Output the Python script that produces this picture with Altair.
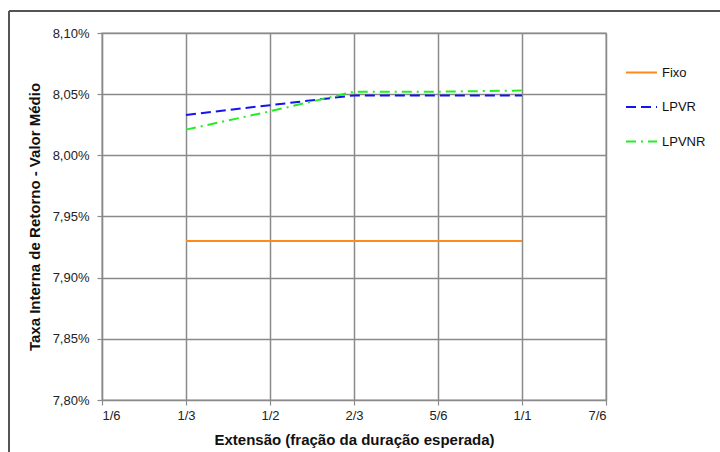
import altair as alt
import pandas as pd

x_labels = ["1/6", "1/3", "1/2", "2/3", "5/6", "1/1", "7/6"]
x_pos = [2/6, 3/6, 4/6, 5/6, 6/6]
series_names = ["Fixo", "LPVR", "LPVNR"]
fixo = [7.930, 7.930, 7.930, 7.930, 7.930]
lpvr = [8.033, 8.041, 8.049, 8.049, 8.049]
lpvnr = [8.021, 8.036, 8.052, 8.052, 8.053]

rows = []
for name, vals in zip(series_names, [fixo, lpvr, lpvnr]):
    for x, v in zip(x_pos, vals):
        rows.append({"serie": name, "x": x, "y": v})
df = pd.DataFrame(rows)

W, H = 504, 367
PL, PT = 102, 33

lab_arr = "[" + ",".join("'%s'" % s for s in x_labels) + "]"

lines = alt.Chart(df).mark_line(strokeWidth=2).encode(
    x=alt.X("x:Q", scale=alt.Scale(domain=[1/6, 7/6], nice=False, zero=False),
            axis=alt.Axis(values=[k/6 for k in range(1, 8)],
                          labelExpr=lab_arr + "[round(datum.value*6)-1]",
                          title="Extensão (fração da duração esperada)")),
    y=alt.Y("y:Q", scale=alt.Scale(domain=[7.80, 8.10], nice=False, zero=False),
            axis=alt.Axis(values=[7.80, 7.85, 7.90, 7.95, 8.00, 8.05, 8.10],
                          labelExpr="replace(format(datum.value, '.2f'), '.', ',') + '%'",
                          title="Taxa Interna de Retorno - Valor Médio")),
    color=alt.Color("serie:N",
                    scale=alt.Scale(domain=series_names, range=["#FF8A1C", "#1414F0", "#22EE22"]),
                    legend=alt.Legend(title=None, orient="none", legendX=523, legendY=23,
                                      symbolType="stroke", symbolSize=961, symbolStrokeWidth=2,
                                      labelFontSize=13, labelFont="Liberation Sans",
                                      labelColor="#111", rowPadding=10.5, labelOffset=4)),
    strokeDash=alt.StrokeDash("serie:N",
                              scale=alt.Scale(domain=series_names,
                                              range=[[1, 0], [10, 5], [10, 5, 2, 5]]),
                              legend=None),
)

frame_top = alt.Chart(df).mark_rule(color="#555", strokeWidth=1.2).encode(
    x=alt.value(9 - PL), x2=alt.value(720 - PL + 5), y=alt.value(11 - PT))
frame_left = alt.Chart(df).mark_rule(color="#555", strokeWidth=1.2).encode(
    x=alt.value(9 - PL), y=alt.value(11 - PT), y2=alt.value(452 - PT + 5))

chart = alt.layer(frame_top, frame_left, lines).properties(
    width=W, height=H,
    autosize=alt.AutoSizeParams(type="none"),
    padding={"left": PL, "top": PT, "right": 720 - PL - W, "bottom": 452 - PT - H},
).configure(background="white"
).configure_view(stroke="#bbbbbb", strokeWidth=1.5).configure_axis(
    gridColor="#8a8a8a", gridWidth=1.5, gridOpacity=1,
    domainColor="#8a8a8a", domainWidth=1.2,
    tickColor="#8a8a8a", tickSize=5, tickWidth=1.2,
    labelFont="Liberation Sans", labelFontSize=13, labelColor="#222",
    titleFont="Liberation Sans", titleFontSize=15, titleFontWeight="bold", titleColor="#111",
).configure_axisX(labelPadding=4, titlePadding=10, labelAngle=0
).configure_axisY(labelPadding=8, titlePadding=10)

chart.save("out.html", embed_options={"renderer": "svg", "actions": False})
